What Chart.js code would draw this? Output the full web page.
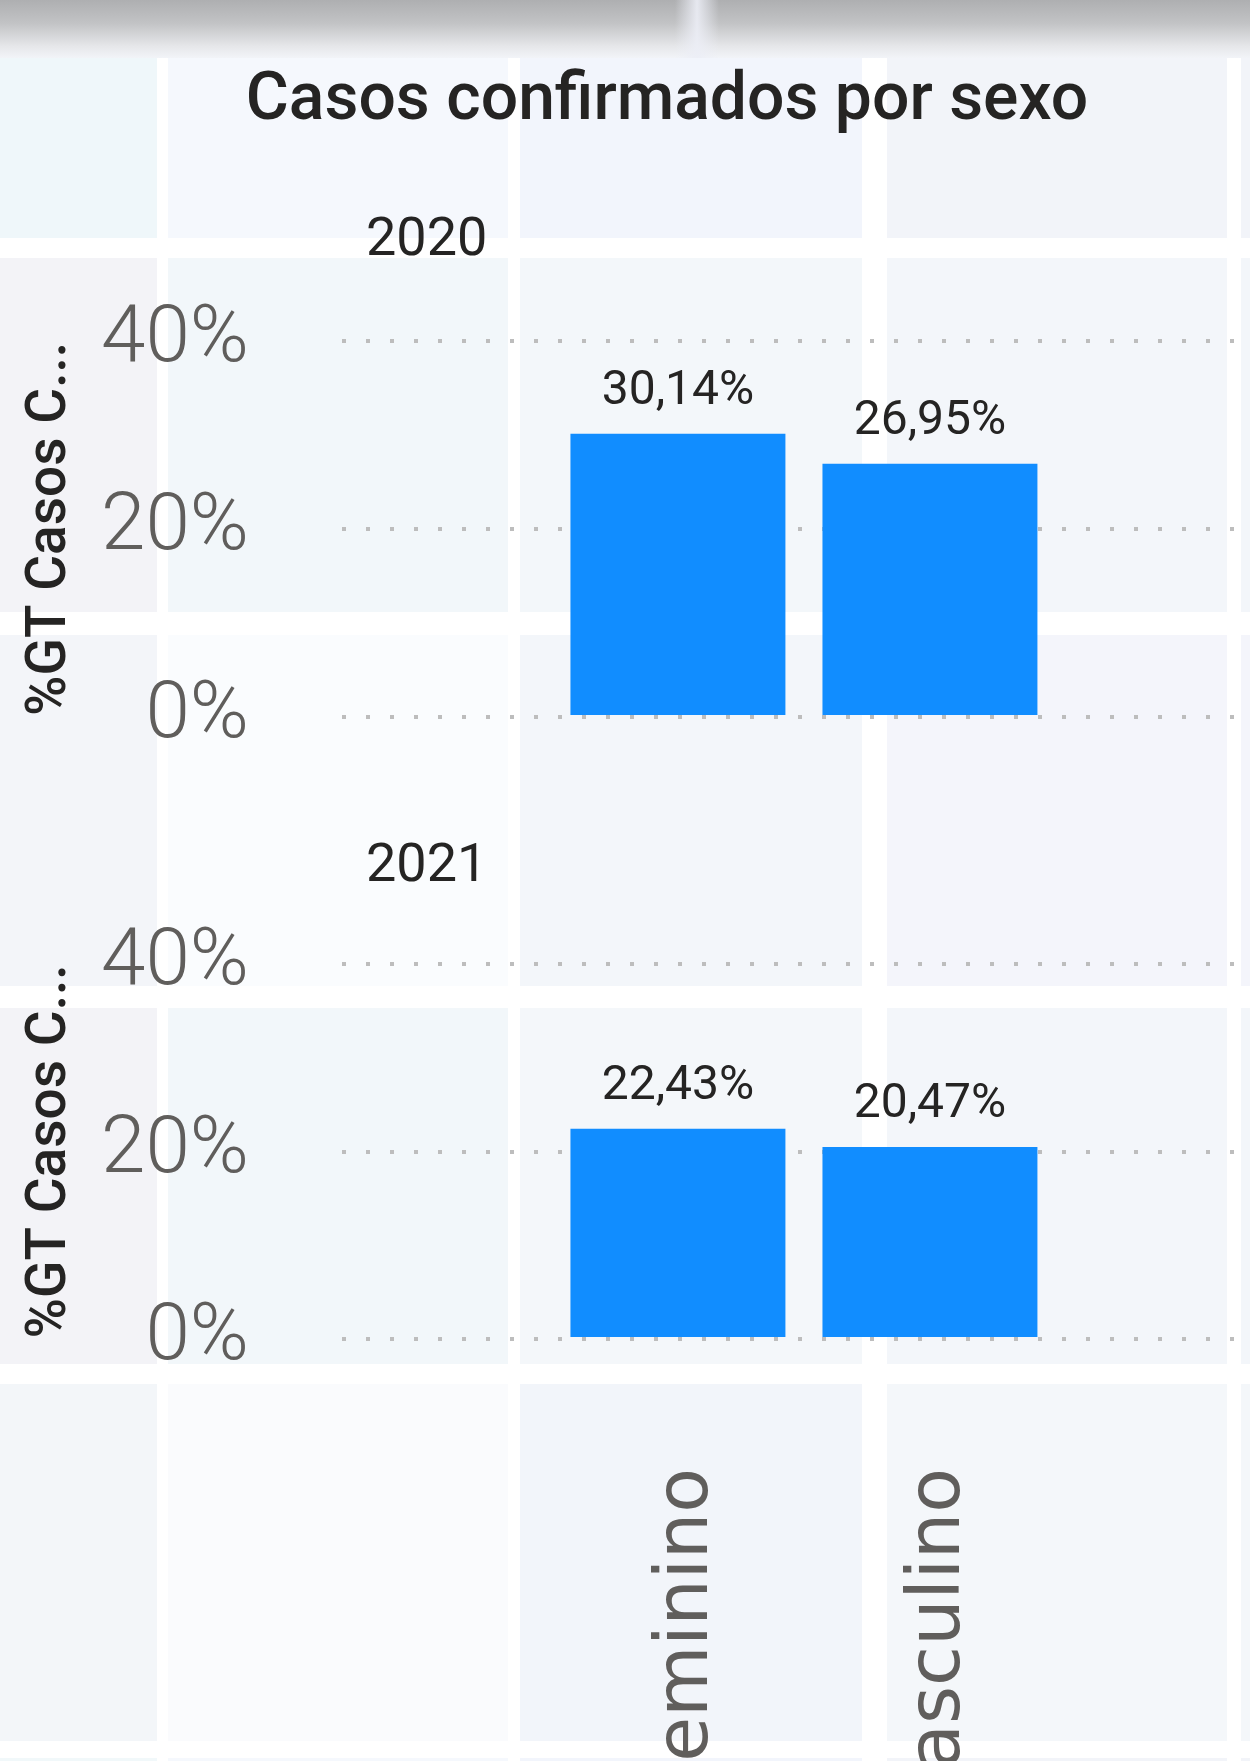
<!DOCTYPE html>
<html lang="pt">
<head>
<meta charset="utf-8">
<script src="https://cdn.jsdelivr.net/npm/chart.js@4.4.1/dist/chart.umd.min.js"></script>
<style>
  html, body { margin: 0; padding: 0; }
  body { width: 1250px; height: 1761px; position: relative; overflow: hidden; background: #fff; font-family: Roboto, sans-serif; }
  .tile { position: absolute; }
  #topBand { position: absolute; left: 0; top: 0; width: 1250px; height: 58px;
    background: linear-gradient(#aeafb1 0%, #c2c3c5 40%, #e6e7ea 80%, #f2f4f8 100%); }
  #topStrip { position: absolute; left: 675px; top: 0; width: 44px; height: 58px;
    background: linear-gradient(90deg, rgba(236,238,246,0) 0%, rgba(236,238,246,0.9) 50%, rgba(236,238,246,0) 100%); }
  #title { position: absolute; left: 0; top: 64px; width: 1334px; text-align: center;
    font-size: 66px; line-height: 66px; font-weight: 500; color: #252423; white-space: nowrap; }
  .year { position: absolute; left: 366px; font-size: 54px; line-height: 54px; font-weight: 400; color: #252423; }
  canvas { position: absolute; left: 0; }
</style>
</head>
<body>
<div id="tiles"></div>
<div id="topBand"></div>
<div id="topStrip"></div>
<div id="title">Casos confirmados por sexo</div>
<div class="year" style="top:210px">2020</div>
<div class="year" style="top:836px">2021</div>
<canvas id="chart2020" width="1250" height="480" style="top:260px"></canvas>
<canvas id="chart2021" width="1250" height="881" style="top:880px"></canvas>
<script>
const sexo = ['Feminino', 'Masculino'];
const pct2020 = [30.14, 26.95];
const pct2021 = [22.43, 20.47];
const yTicks = [0, 20, 40];

// faint report tiles behind the visual
const tileCols = [[0, 157], [168, 508], [520, 862], [887, 1227], [1241, 1250]];
const tileRows = [[56, 238], [258, 612], [635, 986], [1008, 1364], [1384, 1741], [1758, 1761]];
const tileColors = [
  ['#eff7fa', '#f5f8fd', '#f2f5fc', '#f2f4f9', '#f2f4f9'],
  ['#f3f3f7', '#f2f7fa', '#f3f7fa', '#f3f6fa', '#f3f6fa'],
  ['#f3f5f9', '#fafcfe', '#f3f6fa', '#f4f5fb', '#f4f5fb'],
  ['#f3f3f7', '#f2f7fa', '#f4f7fa', '#f3f6fa', '#f3f6fa'],
  ['#f3f6f9', '#fafbfd', '#f2f5fa', '#f4f7fa', '#f4f7fa'],
  ['#f1f8fa', '#f5f8fd', '#f2f5fc', '#f2f4f9', '#f2f4f9']
];
const tiles = document.getElementById('tiles');
tileRows.forEach((r, ri) => {
  tileCols.forEach((c, ci) => {
    const d = document.createElement('div');
    d.className = 'tile';
    d.style.left = c[0] + 'px';
    d.style.width = (c[1] - c[0]) + 'px';
    d.style.top = r[0] + 'px';
    d.style.height = (r[1] - r[0]) + 'px';
    d.style.background = tileColors[ri][ci];
    tiles.appendChild(d);
  });
});

const valueLabels = {
  id: 'valueLabels',
  afterDatasetsDraw(chart) {
    const ctx = chart.ctx;
    const ds = chart.data.datasets[0];
    ctx.save();
    ctx.font = '48px Roboto';
    ctx.fillStyle = '#252423';
    ctx.textAlign = 'center';
    ctx.textBaseline = 'alphabetic';
    chart.getDatasetMeta(0).data.forEach((bar, i) => {
      const v = ds.data[i].y;
      ctx.fillText(v.toFixed(2).replace('.', ',') + '%', bar.x, bar.y - 30);
    });
    ctx.restore();
  }
};

const makeChart = (id, values, padTop, xHeight, showLabels) => {
  return new Chart(document.getElementById(id), {
    type: 'bar',
    data: {
      datasets: [{
        data: values.map((v, i) => ({ x: i, y: v })),
        backgroundColor: '#118DFF',
        borderWidth: 0,
        barPercentage: 0.853,
        categoryPercentage: 1
      }]
    },
    options: {
      responsive: false,
      animation: false,
      layout: { padding: { top: padTop, left: 0, right: 0, bottom: 0 } },
      plugins: { legend: { display: false }, tooltip: { enabled: false } },
      scales: {
        x: {
          type: 'linear',
          min: -1.333,
          max: 2.27,
          offset: false,
          grid: { display: false },
          border: { display: false },
          afterBuildTicks: (s) => { s.ticks = sexo.map((_, i) => ({ value: i })); },
          afterFit: (s) => { s.height = xHeight; s.paddingLeft = 0; s.paddingRight = 0; },
          ticks: {
            display: showLabels,
            autoSkip: false,
            minRotation: 90,
            maxRotation: 90,
            padding: 121,
            labelOffset: 10,
            color: '#605E5C',
            font: { family: 'DejaVu Sans', size: 73 },
            callback: (v) => sexo[v]
          }
        },
        y: {
          min: 0,
          max: 40,
          afterBuildTicks: (s) => { s.ticks = yTicks.map(v => ({ value: v })); },
          // the big tick padding must not push the plot area down
          afterFit: (s) => { s.width = 342; s.paddingTop = 0; s.paddingBottom = 0; },
          grid: { color: '#bdbdbd', lineWidth: 4, drawTicks: false },
          border: { display: false, dash: [4, 20] },
          ticks: {
            padding: 93,
            color: '#605E5C',
            font: { family: 'Roboto', size: 80, weight: 300 },
            callback: (v) => v + '%'
          },
          title: {
            display: true,
            text: '%GT Casos C...',
            color: '#252423',
            padding: { top: 18, bottom: 0 },
            font: { family: 'Roboto', size: 55, weight: 500 }
          }
        }
      }
    },
    plugins: [valueLabels]
  });
};

makeChart('chart2020', pct2020, 81, 23, false);
makeChart('chart2021', pct2021, 84, 422, true);
</script>
</body>
</html>
